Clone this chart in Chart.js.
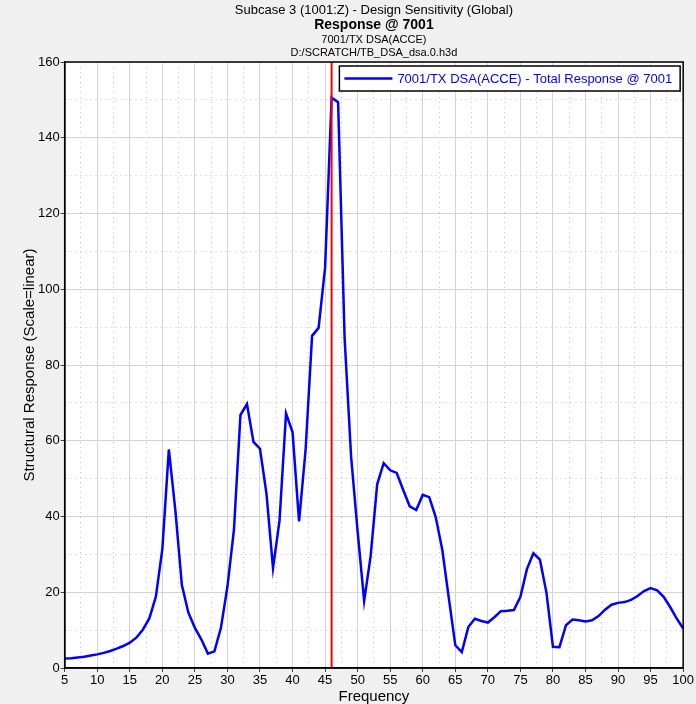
<!DOCTYPE html>
<html lang="en">
<head>
<meta charset="UTF-8">
<title>Response @ 7001</title>
<script src="https://cdn.jsdelivr.net/npm/chart.js"></script>
<style>
    body { background: #f0f0f0; margin: 0; padding: 0; }
    canvas { display: block; }
</style>
</head>
<body>
<canvas id="respChart" width="696" height="704"></canvas>
<script>
// frequency (Hz) and total response
const freqs = [5,6,7,8,9,10,11,12,13,14,15,16,17,18,19,20,21,22,23,24,25,26,27,28,29,30,
    31,32,33,34,35,36,37,38,39,40,41,42,43,44,45,46,47,48,49,50,51,52,53,54,55,56,57,58,59,60,
    61,62,63,64,65,66,67,68,69,70,71,72,73,74,75,76,77,78,79,80,81,82,83,84,85,86,87,88,89,90,
    91,92,93,94,95,96,97,98,99,100];
const response = [2.5,2.6,2.8,3.0,3.3,3.6,4.0,4.5,5.1,5.8,6.7,8.0,10.1,13.1,18.8,31.4,57.7,41.6,21.9,14.6,10.6,7.5,3.8,4.4,10.6,21.5,
    36.5,66.8,69.7,59.7,57.9,46.0,26.4,38.9,67.2,62.3,38.7,57.5,87.7,89.8,105.7,150.6,149.4,87.0,55.7,36.0,17.7,29.6,48.5,54.1,52.2,51.5,47.0,42.7,41.7,45.7,
    45.1,39.8,31.2,18.5,6.0,4.2,10.8,13.0,12.4,12.0,13.4,15.0,15.1,15.3,18.8,26.1,30.3,28.6,19.9,5.6,5.5,11.3,12.8,12.6,12.3,12.6,13.7,15.4,16.7,17.2,
    17.4,18.0,19.0,20.3,21.1,20.5,18.8,16.1,13.1,10.4];
// red marker at the selected frequency
const markerFreq = [46, 46];
const markerVals = [0, 160];

const titleLines = [
    'Subcase 3 (1001:Z) - Design Sensitivity (Global)',
    'Response @ 7001',
    '7001/TX DSA(ACCE)',
    'D:/SCRATCH/TB_DSA_dsa.0.h3d'
];
const legendText = '7001/TX DSA(ACCE) - Total Response @ 7001';
const FONT = '"Liberation Sans", Arial, sans-serif';

const framePlugin = {
    id: 'frame',
    beforeDraw(chart) {
        const a = chart.chartArea, ctx = chart.ctx;
        ctx.save();
        ctx.fillStyle = '#ffffff';
        ctx.fillRect(a.left, a.top, a.right - a.left, a.bottom - a.top);
        ctx.restore();
    },
    afterDatasetsDraw(chart) {
        const a = chart.chartArea, ctx = chart.ctx;
        ctx.save();
        ctx.strokeStyle = '#000';
        ctx.lineWidth = 1.5;
        ctx.strokeRect(a.left, a.top, a.right - a.left, a.bottom - a.top);
        ctx.restore();
    },
    afterDraw(chart) {
        const a = chart.chartArea, ctx = chart.ctx;
        const cx = (a.left + a.right) / 2;
        ctx.save();
        // titles
        ctx.fillStyle = '#000';
        ctx.textAlign = 'center';
        ctx.textBaseline = 'middle';
        ctx.font = '13px ' + FONT;
        ctx.fillText(titleLines[0], cx, 10);
        ctx.font = 'bold 14px ' + FONT;
        ctx.fillText(titleLines[1], cx, 25);
        ctx.font = '11px ' + FONT;
        ctx.fillText(titleLines[2], cx, 39.5);
        ctx.fillText(titleLines[3], cx, 53);
        // legend box in the top right corner
        ctx.font = '13px ' + FONT;
        const tw = ctx.measureText(legendText).width;
        const w = 58 + tw + 8, h = 25;
        const x = a.right - 3 - w, y = a.top + 4;
        ctx.fillStyle = '#fff';
        ctx.fillRect(x, y, w, h);
        ctx.strokeStyle = '#000';
        ctx.lineWidth = 1.5;
        ctx.strokeRect(x, y, w, h);
        ctx.strokeStyle = '#0000ff';
        ctx.lineWidth = 2.5;
        ctx.beginPath();
        ctx.moveTo(x + 5, y + h / 2);
        ctx.lineTo(x + 53, y + h / 2);
        ctx.stroke();
        ctx.fillStyle = '#0000ff';
        ctx.textAlign = 'left';
        ctx.fillText(legendText, x + 58, y + h / 2 + 1);
        ctx.restore();
    }
};

const isMajorX = v => Math.abs(v % 5) < 1e-6;
const isMajorY = v => Math.abs(v % 20) < 1e-6;

new Chart(document.getElementById('respChart').getContext('2d'), {
    type: 'line',
    data: {
        datasets: [
            { label: 'marker', data: markerFreq.map((f, i) => ({ x: f, y: markerVals[i] })),
              borderColor: '#ff0000', borderWidth: 2, pointRadius: 0, fill: false },
            { label: legendText, data: freqs.map((f, i) => ({ x: f, y: response[i] })),
              borderColor: '#0000ff', borderWidth: 2.5, pointRadius: 0, fill: false, tension: 0 }
        ]
    },
    options: {
        responsive: false,
        animation: false,
        layout: { padding: { top: 62, right: 9, left: 13, bottom: 0 } },
        plugins: { legend: { display: false }, tooltip: { enabled: false } },
        scales: {
            x: {
                type: 'linear', min: 5, max: 100,
                ticks: {
                    stepSize: 2.5, autoSkip: false, maxRotation: 0, padding: 2,
                    color: '#000', font: { family: FONT, size: 13, lineHeight: 1.0 },
                    callback: v => isMajorX(v) ? v : ''
                },
                grid: {
                    color: c => isMajorX(c.tick.value) ? '#d4d4d4' : '#c4c4c4',
                    tickColor: c => isMajorX(c.tick.value) ? '#444' : 'rgba(0,0,0,0)',
                    tickLength: 4
                },
                border: { color: '#000', width: 1.5, dash: c => (c.tick && !isMajorX(c.tick.value)) ? [1, 4] : [] },
                title: { display: true, text: 'Frequency', color: '#000', padding: 0,
                         font: { family: FONT, size: 15, lineHeight: 1.0 } }
            },
            y: {
                type: 'linear', min: 0, max: 160,
                ticks: {
                    stepSize: 10, autoSkip: false, padding: 1,
                    color: '#000', font: { family: FONT, size: 13 },
                    callback: v => isMajorY(v) ? v : ''
                },
                grid: {
                    color: c => isMajorY(c.tick.value) ? '#d4d4d4' : '#c4c4c4',
                    tickColor: c => isMajorY(c.tick.value) ? '#444' : 'rgba(0,0,0,0)',
                    tickLength: 4
                },
                border: { color: '#000', width: 1.5, dash: c => (c.tick && !isMajorY(c.tick.value)) ? [1, 4] : [] },
                title: { display: true, text: 'Structural Response (Scale=linear)', color: '#000',
                         padding: { top: 9, bottom: 0 }, font: { family: FONT, size: 15, lineHeight: 1.0 } }
            }
        }
    },
    plugins: [framePlugin]
});
</script>
</body>
</html>
